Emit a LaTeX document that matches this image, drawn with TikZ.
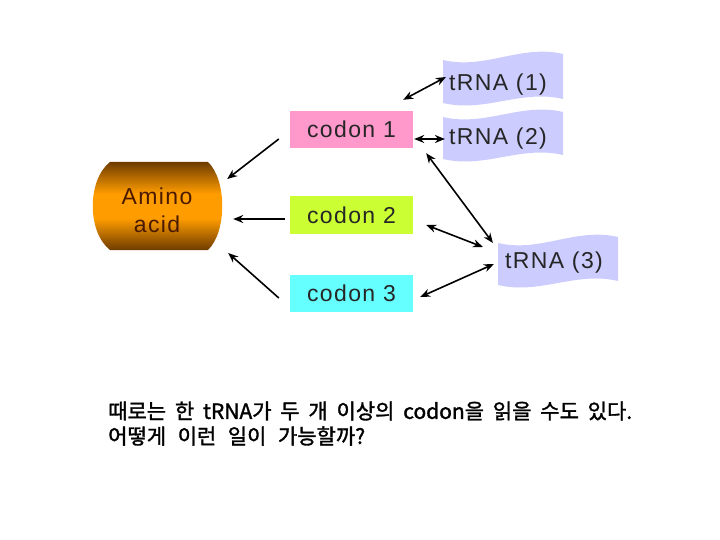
\documentclass[tikz,border=0pt]{standalone}
\usepackage{fontspec}
\setmainfont{Liberation Sans}[LetterSpace=6]
\newfontfamily\kr{Noto Sans CJK KR}[FakeBold=1.5]
\usetikzlibrary{calc,arrows.meta}
\definecolor{cpink}{HTML}{FF99CC}
\definecolor{cgreen}{HTML}{CCFF33}
\definecolor{ccyan}{HTML}{66FFFF}
\definecolor{trna}{HTML}{CCCCFF}
\definecolor{amdark}{HTML}{6E3C00}
\definecolor{ammid}{HTML}{FF9C00}
\definecolor{amtext}{HTML}{4A1A00}
\pgfdeclareverticalshading{barrel}{100bp}{color(0bp)=(amdark); color(25bp)=(amdark); color(43bp)=(ammid); color(57bp)=(ammid); color(75bp)=(amdark); color(100bp)=(amdark)}
\begin{document}
\begin{tikzpicture}[x=1pt,y=-1pt,
  lab/.style={font=\fontsize{23}{28}\selectfont, text=black!85},
  codonbox/.style={lab, minimum width=123pt, minimum height=37pt, inner sep=0pt},
  tip/.tip={Stealth[length=10pt,width=8pt]},
  conn/.style={line width=1.6pt, -tip},
  biconn/.style={line width=1.6pt, tip-tip},
  krtext/.style={font=\kr\fontsize{21}{24}\selectfont, anchor=west, inner sep=0pt}]
\useasboundingbox (0,0) rectangle (720,540);
% Amino acid barrel
\shade[shading=barrel]
  (110,162) -- (208,162) .. controls (227,180) and (227,232) .. (208,250)
  -- (110,250) .. controls (87,232) and (87,180) .. (110,162) -- cycle;
\node[lab, text=amtext, align=center, minimum width=129pt, minimum height=89pt, inner sep=0pt] (amino) at (157,210) {Amino\\acid};
% codons
\node[codonbox, fill=cpink] (c1) at (351.5,129.5) {codon 1};
\node[codonbox, fill=cgreen] (c2) at (351.5,215) {codon 2};
\node[codonbox, fill=ccyan] (c3) at (351.5,293.5) {codon 3};
% tRNA banners
\fill[trna] (443,60) .. controls (485,70) and (521,44) .. (563,54) -- (563,99)
  .. controls (521,89) and (485,113) .. (443,103) -- cycle;
\fill[trna] (443,117) .. controls (485,127) and (521,102) .. (563,112) -- (563,155)
  .. controls (521,145) and (485,169) .. (443,159) -- cycle;
\fill[trna] (498,243) .. controls (540,253) and (576,227) .. (618,237) -- (618,281)
  .. controls (576,271) and (540,295) .. (498,285) -- cycle;
\node[lab, inner sep=0pt] (t1) at (498,85) {tRNA (1)};
\node[lab, inner sep=0pt] (t2) at (498,139) {tRNA (2)};
\node[lab, inner sep=0pt] (t3) at (554,263) {tRNA (3)};
% arrows to amino acid
\draw[conn] ($(c1.west)+(-11,9.5)$) -- ($(amino.east)+(5.5,-31)$);
\draw[conn] ($(c2.west)+(-5,4)$) -- ($(amino.east)+(11.5,9)$);
\draw[conn] ($(c3.west)+(-11,4.5)$) -- ($(amino.east)+(6.5,43)$);
% codon - tRNA arrows
\draw[biconn] ($(c1.north east)+(-10,-11)$) -- ($(t1.west)+(-3,-8)$);
\draw[biconn] ($(c1.east)+(1,9.5)$) -- ($(t2.west)+(-4,0)$);
\draw[biconn] ($(c1.south east)+(13,5)$) -- ($(t3.west)+(-12,-20)$);
\draw[biconn] ($(c2.east)+(13,10)$) -- ($(t3.west)+(-22,-16)$);
\draw[biconn] ($(c3.east)+(7,3.5)$) -- ($(t3.west)+(-11,1)$);
% Korean text
\node[krtext] (k1) at (108,411) {\makebox[524pt][s]{때로는 한 tRNA가 두 개 이상의 codon을 읽을 수도 있다.}};
\node[krtext] (k2) at (108,436) {\makebox[257pt][s]{어떻게 이런 일이 가능할까?}};
\end{tikzpicture}
\end{document}
